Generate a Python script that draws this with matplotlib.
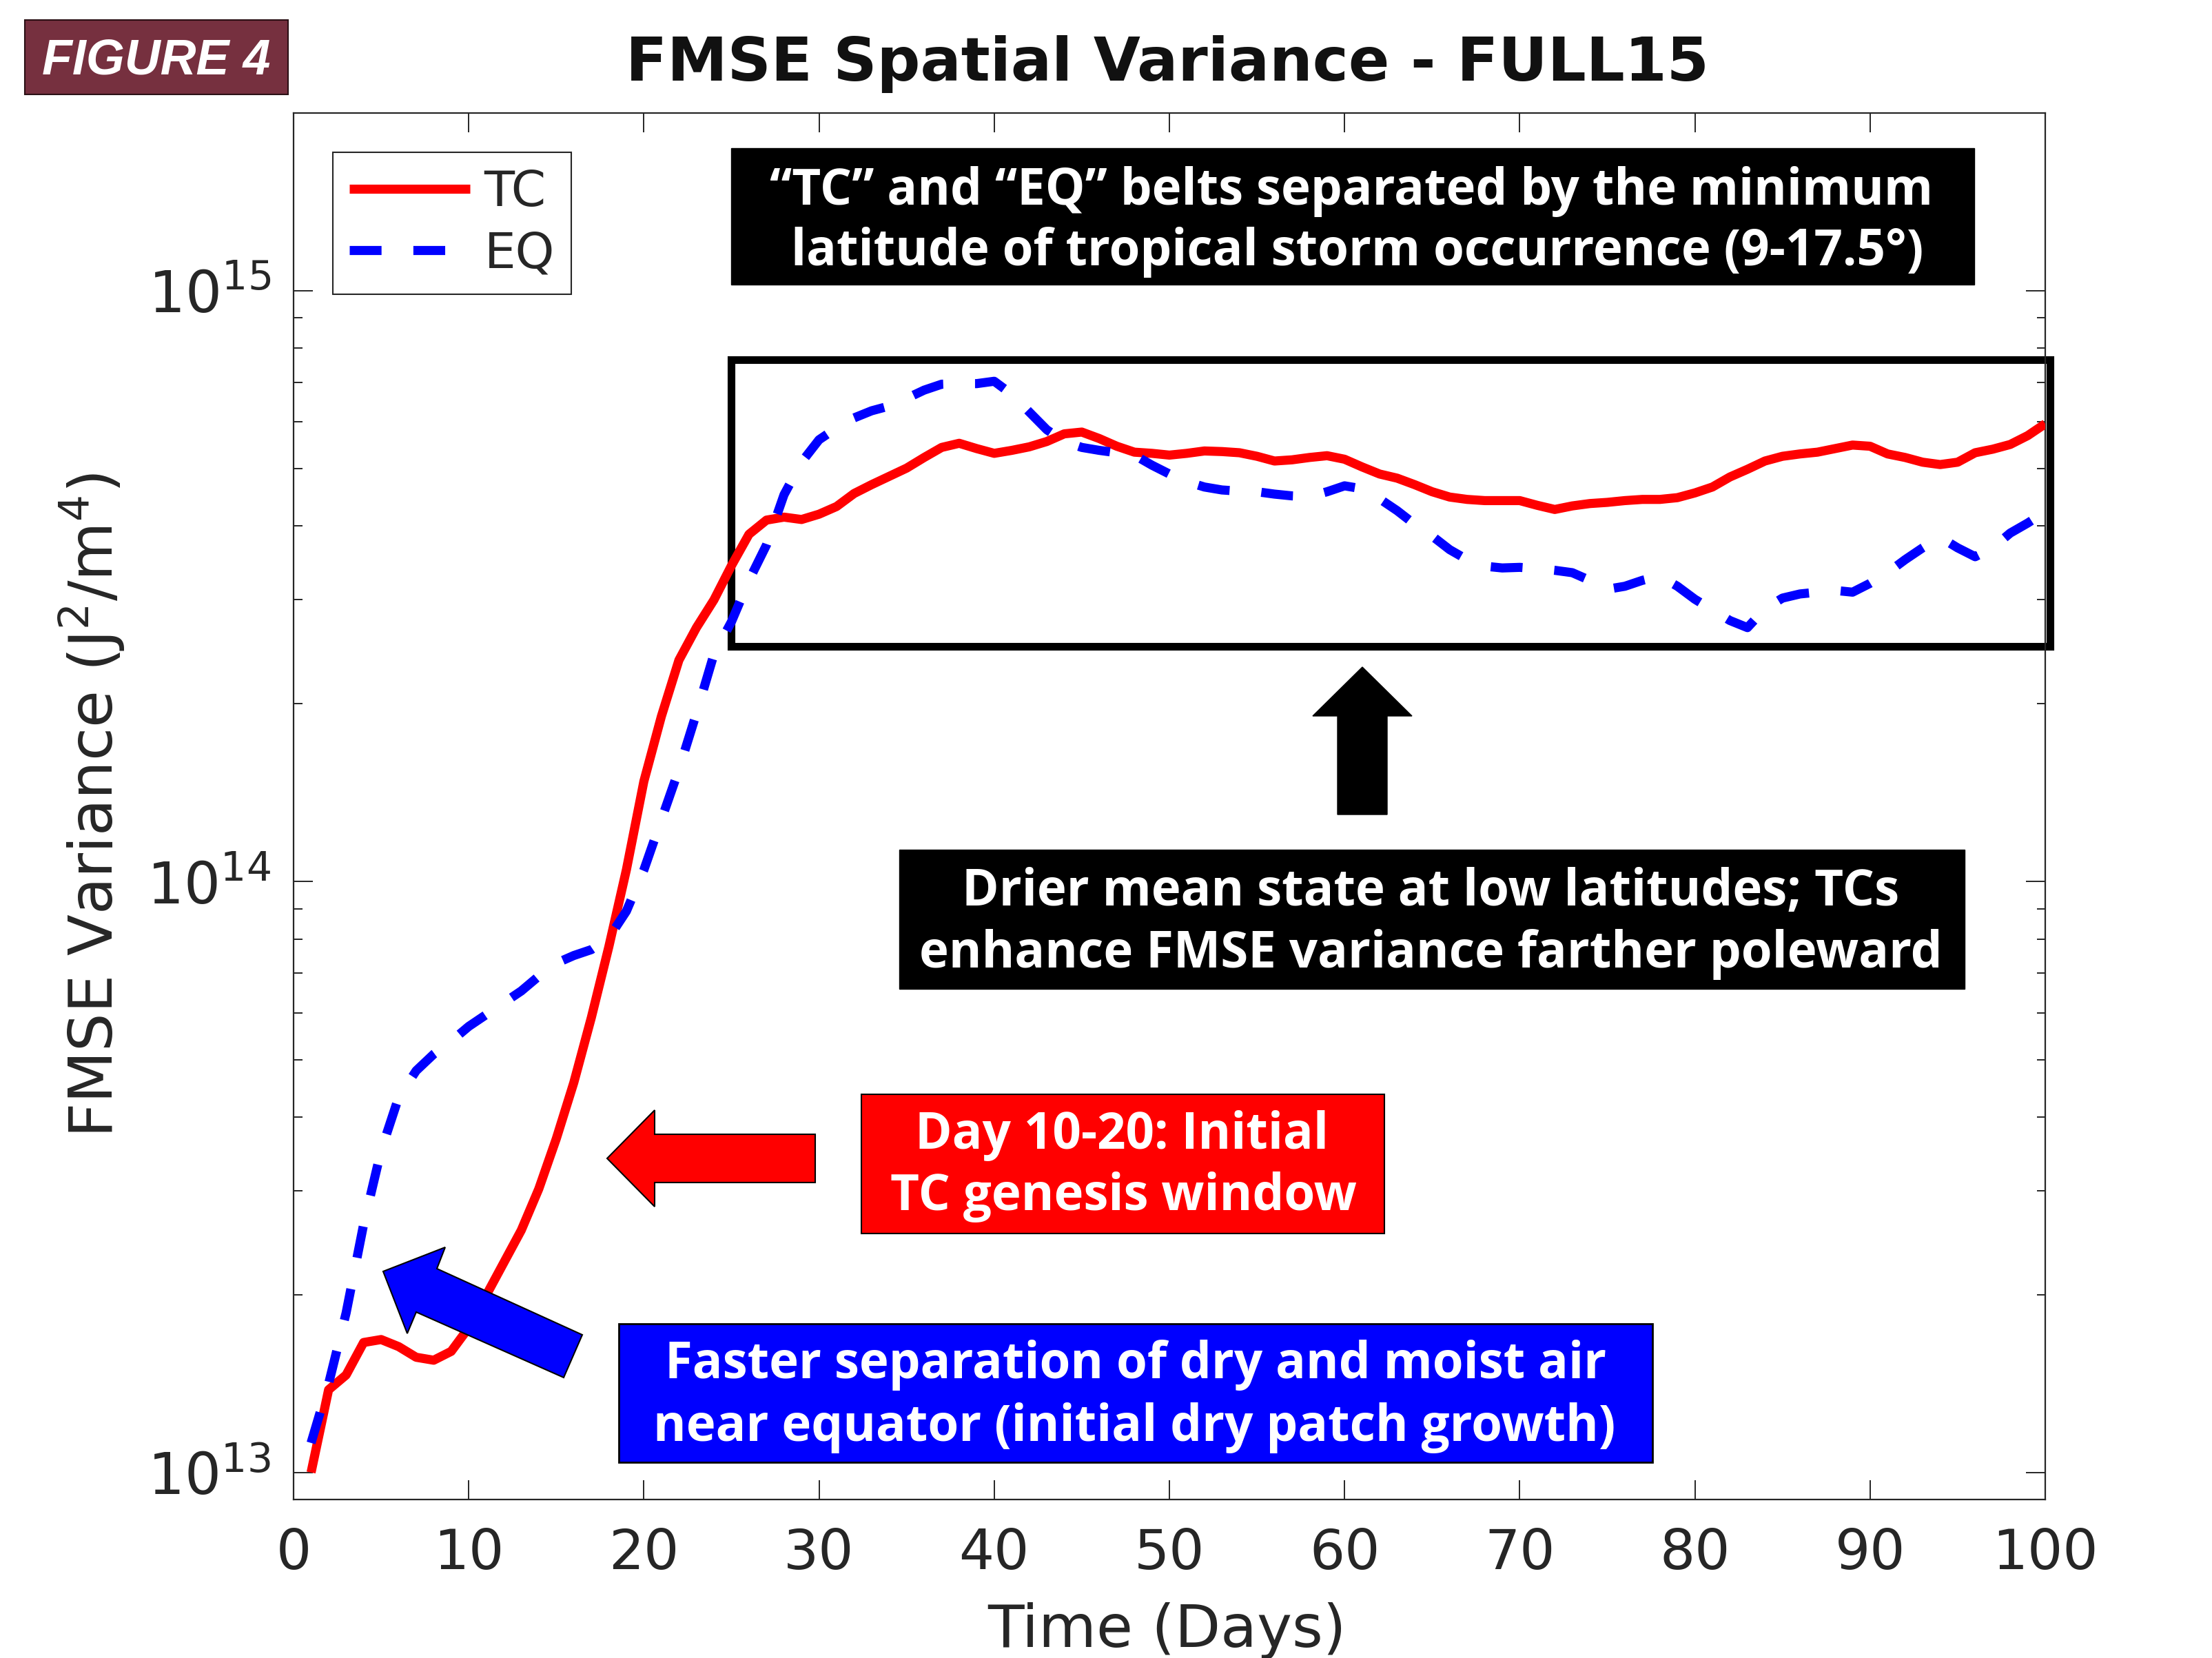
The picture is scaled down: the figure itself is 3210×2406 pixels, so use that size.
import numpy as np
import matplotlib
matplotlib.use("Agg")
import matplotlib.pyplot as plt
from matplotlib.patches import Rectangle, Polygon
from matplotlib import font_manager

# ---------------- data (log10 of FMSE spatial variance, J^2/m^4) ----------------
days = list(range(1, 101))
tc_log10 = [
    13.000, 13.140, 13.165, 13.220, 13.225, 13.213, 13.195, 13.190, 13.205, 13.245,
    13.300, 13.355, 13.410, 13.480, 13.565, 13.660, 13.770, 13.890, 14.020, 14.170,
    14.280, 14.375, 14.430, 14.477, 14.535, 14.588, 14.612, 14.617, 14.613, 14.622,
    14.635, 14.657, 14.672, 14.686, 14.700, 14.718, 14.735, 14.742, 14.733, 14.725,
    14.730, 14.736, 14.745, 14.758, 14.761, 14.750, 14.737, 14.727, 14.725, 14.722,
    14.725, 14.729, 14.728, 14.726, 14.720, 14.712, 14.714, 14.718, 14.721, 14.715,
    14.702, 14.690, 14.683, 14.672, 14.660, 14.651, 14.647, 14.645, 14.645, 14.645,
    14.637, 14.630, 14.636, 14.640, 14.642, 14.645, 14.647, 14.647, 14.650, 14.658,
    14.668, 14.685, 14.698, 14.712, 14.720, 14.724, 14.727, 14.733, 14.739, 14.737,
    14.724, 14.718, 14.710, 14.706, 14.710, 14.726, 14.732, 14.740, 14.755, 14.775,
]
eq_log10 = [
    13.050, 13.150, 13.270, 13.420, 13.545, 13.635, 13.680, 13.708, 13.730, 13.755,
    13.775, 13.795, 13.815, 13.840, 13.862, 13.875, 13.885, 13.905, 13.950, 14.020,
    14.105, 14.190, 14.285, 14.385, 14.440, 14.510, 14.570, 14.655, 14.710, 14.748,
    14.768, 14.785, 14.797, 14.805, 14.818, 14.832, 14.842, 14.843, 14.843, 14.847,
    14.825, 14.795, 14.765, 14.745, 14.735, 14.730, 14.726, 14.722, 14.705, 14.690,
    14.677, 14.668, 14.663, 14.661, 14.660, 14.656, 14.653, 14.652, 14.660, 14.670,
    14.665, 14.648, 14.628, 14.605, 14.585, 14.562, 14.545, 14.534, 14.531, 14.532,
    14.530, 14.527, 14.523, 14.510, 14.495, 14.500, 14.510, 14.517, 14.500, 14.478,
    14.460, 14.442, 14.430, 14.462, 14.480, 14.487, 14.490, 14.493, 14.490, 14.505,
    14.523, 14.545, 14.565, 14.583, 14.565, 14.550, 14.565, 14.590, 14.607, 14.626,
]
series_labels = ["TC", "EQ"]
x_ticks = [0, 10, 20, 30, 40, 50, 60, 70, 80, 90, 100]
y_major_ticks = [1e13, 1e14, 1e15]

title_text = "FMSE Spatial Variance - FULL15"
xlabel_text = "Time (Days)"
ylabel_text = "FMSE Variance ($\\mathregular{J^2/m^4}$)"
figure_tag = "FIGURE 4"
note_belts = ["\u201cTC\u201d and \u201cEQ\u201d belts separated by the minimum",
              "latitude of tropical storm occurrence (9-17.5\u00b0)"]
note_drier = ["Drier mean state at low latitudes; TCs",
              "enhance FMSE variance farther poleward"]
note_genesis = ["Day 10-20: Initial", "TC genesis window"]
note_faster = ["Faster separation of dry and moist air",
               "near equator (initial dry patch growth)"]

# ---------------- figure ----------------
W, H = 3210, 2406
fig = plt.figure(figsize=(W / 100, H / 100), dpi=100)
fig.patch.set_facecolor("white")
renderer = fig.canvas.get_renderer()


def fx(px):
    return px / W


def fy(py):
    return 1 - py / H


AX_COL = "#262626"
ax = fig.add_axes([fx(426), fy(2176), fx(2968) - fx(426), fy(164) - fy(2176)])

tc_vals = 10 ** np.array(tc_log10)
eq_vals = 10 ** np.array(eq_log10)
ax.plot(days, tc_vals, color="#FF0000", lw=9.5, solid_capstyle="butt",
        solid_joinstyle="round", label=series_labels[0], zorder=3)
ax.plot(days, eq_vals, color="#0000FF", lw=9.5, ls=(0, (3.5, 3.5)),
        dash_capstyle="butt", label=series_labels[1], zorder=3)

ax.set_yscale("log")
ax.set_xlim(0, 100)
ax.set_ylim(9e12, 2e15)
ax.set_xticks(x_ticks)
ax.set_yticks(y_major_ticks)
ax.minorticks_on()
ax.xaxis.set_minor_locator(matplotlib.ticker.NullLocator())

for sp in ax.spines.values():
    sp.set_color(AX_COL)
    sp.set_linewidth(1.6)
ax.tick_params(which="both", direction="in", top=True, right=True,
               color=AX_COL, width=1.4, labelcolor=AX_COL)
ax.tick_params(which="major", length=20, labelsize=58)
ax.tick_params(which="minor", length=9)
ax.tick_params(axis="x", which="major", pad=29)
ax.tick_params(axis="y", which="major", pad=24, labelsize=60)

ax.set_xlabel(xlabel_text, fontsize=62, color=AX_COL, va="baseline")
ax.xaxis.set_label_coords(fx(1693), fy(2390), transform=fig.transFigure)
ax.set_ylabel(ylabel_text, fontsize=63, color=AX_COL, va="center", ha="center")
ax.yaxis.set_label_coords(fx(133), fy(1169), transform=fig.transFigure)

leg = ax.legend(loc="upper left", bbox_to_anchor=(fx(483), fy(221)),
                bbox_transform=fig.transFigure, borderaxespad=0,
                fontsize=52, handlelength=2.43, handletextpad=0.28,
                borderpad=0.33, labelspacing=0.28, fancybox=False,
                framealpha=1, edgecolor=AX_COL)
leg.get_frame().set_linewidth(1.5)
for t in leg.get_texts():
    t.set_color(AX_COL)
leg.set_zorder(6)


# ---------------- helpers ----------------
def rect(x0, y0, x1, y1, **kw):
    return Rectangle((fx(x0), fy(y1)), fx(x1) - fx(x0), fy(y0) - fy(y1),
                     transform=fig.transFigure, **kw)


def poly(points, **kw):
    return Polygon([(fx(a), fy(b)) for a, b in points], closed=True,
                   transform=fig.transFigure, **kw)


# outline box around the saturated period (drawn beneath curves)
ax.add_patch(rect(1061, 522, 2975, 938, fill=False, edgecolor="black",
                  linewidth=8, clip_on=False, zorder=1.5))

# annotation boxes
ax.add_patch(rect(1061, 215, 2865, 413, facecolor="black", edgecolor="black",
                  linewidth=1, clip_on=False, zorder=7))
ax.add_patch(rect(1305, 1233, 2851, 1435, facecolor="black", edgecolor="black",
                  linewidth=1, clip_on=False, zorder=7))
ax.add_patch(rect(1250, 1588, 2009, 1790, facecolor="#FF0000", edgecolor="black",
                  linewidth=1.5, clip_on=False, zorder=7))
ax.add_patch(rect(898, 1921, 2398, 2122, facecolor="#0000FF", edgecolor="black",
                  linewidth=2, clip_on=False, zorder=7))

# arrows
ax.add_patch(poly([(1977, 968), (2049, 1039), (2013, 1039), (2013, 1182),
                   (1941, 1182), (1941, 1039), (1905, 1039)],
                  facecolor="black", edgecolor="black", linewidth=1,
                  clip_on=False, zorder=7))
ax.add_patch(poly([(881, 1681), (950, 1611), (950, 1646), (1183, 1646),
                   (1183, 1716), (950, 1716), (950, 1751)],
                  facecolor="#FF0000", edgecolor="black", linewidth=1.5,
                  clip_on=False, zorder=7))
ax.add_patch(poly([(556, 1845), (646, 1810), (634, 1841), (845, 1937),
                   (818, 1999), (604, 1904), (591, 1935)],
                  facecolor="#0000FF", edgecolor="black", linewidth=1.5,
                  clip_on=False, zorder=7))

# annotation texts: (lines, centres x, baselines y, reference widths)
notes = [
    (note_belts, [1961, 1970], [297, 385], [1713, 1637]),
    (note_drier, [2076, 2076], [1314, 1404], [1339, 1475]),
    (note_genesis, [1628, 1630], [1667, 1756], [621, 701]),
    (note_faster, [1648, 1646], [2000, 2091], [1341, 1375]),
]
NOTE_FONT = dict(family=["Open Sans", "DejaVu Sans"], fontweight="bold", color="white")
texts, meas, targ = [], [], []
for lines, xs, ys, ws in notes:
    for s, x, y, w in zip(lines, xs, ys, ws):
        t = fig.text(fx(x), fy(y), s, ha="center", va="baseline", fontsize=40,
                     zorder=8, **NOTE_FONT)
        texts.append(t)
        meas.append(t.get_window_extent(renderer).width)
        targ.append(w)
scale = sum(targ) / sum(meas)
for t in texts:
    t.set_fontsize(40 * scale)

# title
tt = fig.text(fx(1694), fy(117), title_text, ha="center", va="baseline",
              fontsize=60, fontweight="bold", color="#111111")
tw = tt.get_window_extent(renderer).width
tt.set_fontsize(60 * 1574 / tw)

# figure tag (condensed bold italic if available)
installed = {f.name for f in font_manager.fontManager.ttflist}
tag_family = ["Liberation Sans Narrow"] if "Liberation Sans Narrow" in installed else ["Liberation Sans"]
fig.add_artist(rect(36, 29, 418, 137, facecolor="#76303F", edgecolor="#2a1015",
                    linewidth=1.5))
ft = fig.text(fx(227), fy(108), figure_tag, ha="center", va="baseline",
              fontsize=50, fontweight="bold", fontstyle="italic", color="white",
              family=tag_family + ["DejaVu Sans"])
fw = ft.get_window_extent(renderer).width
ft.set_fontsize(50 * 332 / fw)

fig.savefig("out.png", dpi=100, facecolor="white")
